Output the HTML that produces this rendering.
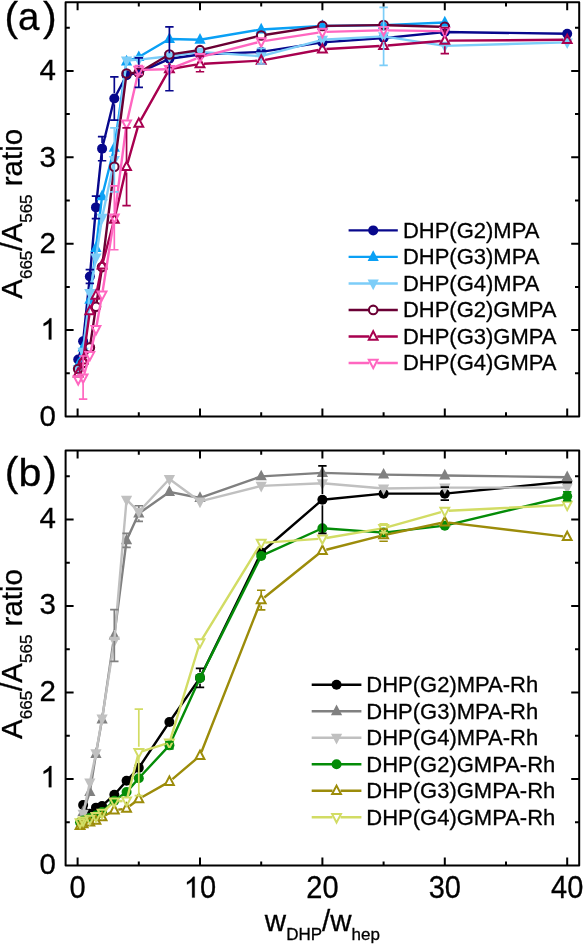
<!DOCTYPE html>
<html><head><meta charset="utf-8"><title>A665/A565 ratio</title>
<style>
html,body{margin:0;padding:0;background:#fff;}
body{width:583px;height:945px;overflow:hidden;font-family:"Liberation Sans", sans-serif;}
svg{display:block;will-change:transform;}
text{stroke:#000;stroke-width:0.3px;}
</style></head><body>
<svg width="583" height="945" viewBox="0 0 583 945" font-family='"Liberation Sans", sans-serif'>
<defs><clipPath id="ca"><rect x="65.6" y="2.2" width="513.6" height="414.3"/></clipPath><clipPath id="cb"><rect x="65.6" y="450.6" width="513.6" height="415.0"/></clipPath></defs>
<g clip-path="url(#ca)"><path d="M78.21,359.48 L83.11,341.33 L89.84,276.53 L95.96,207.41 L102.08,148.66 L114.32,98.55 L126.56,75.22 L138.8,72.63 L169.4,58.8 L200,54.48 L261.2,51.89 L322.4,42.39 L383.6,38.07 L444.8,32.02 L567.2,33.75" fill="none" stroke="#08088c" stroke-width="2.4" stroke-linejoin="round"/>
<circle cx="78.21" cy="359.48" r="5.0" fill="#08088c"/>
<circle cx="83.11" cy="341.33" r="5.0" fill="#08088c"/>
<circle cx="89.84" cy="276.53" r="5.0" fill="#08088c"/>
<circle cx="95.96" cy="207.41" r="5.0" fill="#08088c"/>
<circle cx="102.08" cy="148.66" r="5.0" fill="#08088c"/>
<circle cx="114.32" cy="98.55" r="5.0" fill="#08088c"/>
<circle cx="126.56" cy="75.22" r="5.0" fill="#08088c"/>
<circle cx="138.8" cy="72.63" r="5.0" fill="#08088c"/>
<circle cx="169.4" cy="58.8" r="5.0" fill="#08088c"/>
<circle cx="200" cy="54.48" r="5.0" fill="#08088c"/>
<circle cx="261.2" cy="51.89" r="5.0" fill="#08088c"/>
<circle cx="322.4" cy="42.39" r="5.0" fill="#08088c"/>
<circle cx="383.6" cy="38.07" r="5.0" fill="#08088c"/>
<circle cx="444.8" cy="32.02" r="5.0" fill="#08088c"/>
<circle cx="567.2" cy="33.75" r="5.0" fill="#08088c"/>
<path d="M78.21,364.66 L83.11,347.38 L89.84,299.86 L95.96,248.02 L102.08,196.18 L114.32,147.8 L126.56,61.4 L138.8,57.08 L169.4,38.93 L200,39.8 L261.2,29.43 L322.4,25.97 L383.6,25.11 L444.8,22.52" fill="none" stroke="#0aa0f5" stroke-width="2.4" stroke-linejoin="round"/>
<polygon points="78.21,357.96 83.81,368.66 72.61,368.66" fill="#0aa0f5"/>
<polygon points="83.11,340.68 88.71,351.38 77.51,351.38" fill="#0aa0f5"/>
<polygon points="89.84,293.16 95.44,303.86 84.24,303.86" fill="#0aa0f5"/>
<polygon points="95.96,241.32 101.56,252.02 90.36,252.02" fill="#0aa0f5"/>
<polygon points="102.08,189.48 107.68,200.18 96.48,200.18" fill="#0aa0f5"/>
<polygon points="114.32,141.1 119.92,151.8 108.72,151.8" fill="#0aa0f5"/>
<polygon points="126.56,54.7 132.16,65.4 120.96,65.4" fill="#0aa0f5"/>
<polygon points="138.8,50.38 144.4,61.08 133.2,61.08" fill="#0aa0f5"/>
<polygon points="169.4,32.23 175,42.93 163.8,42.93" fill="#0aa0f5"/>
<polygon points="200,33.1 205.6,43.8 194.4,43.8" fill="#0aa0f5"/>
<polygon points="261.2,22.73 266.8,33.43 255.6,33.43" fill="#0aa0f5"/>
<polygon points="322.4,19.27 328,29.97 316.8,29.97" fill="#0aa0f5"/>
<polygon points="383.6,18.41 389.2,29.11 378,29.11" fill="#0aa0f5"/>
<polygon points="444.8,15.82 450.4,26.52 439.2,26.52" fill="#0aa0f5"/>
<path d="M78.21,368.98 L83.11,351.7 L89.84,292.95 L95.96,257.52 L102.08,217.78 L114.32,159.89 L126.56,60.53 L138.8,59.67 L169.4,56.21 L200,51.89 L261.2,56.21 L322.4,39.8 L383.6,36.34 L444.8,45.84 L567.2,42.39" fill="none" stroke="#7ccdf8" stroke-width="2.4" stroke-linejoin="round"/>
<polygon points="78.21,375.68 83.81,364.98 72.61,364.98" fill="#7ccdf8"/>
<polygon points="83.11,358.4 88.71,347.7 77.51,347.7" fill="#7ccdf8"/>
<polygon points="89.84,299.65 95.44,288.95 84.24,288.95" fill="#7ccdf8"/>
<polygon points="95.96,264.22 101.56,253.52 90.36,253.52" fill="#7ccdf8"/>
<polygon points="102.08,224.48 107.68,213.78 96.48,213.78" fill="#7ccdf8"/>
<polygon points="114.32,166.59 119.92,155.89 108.72,155.89" fill="#7ccdf8"/>
<polygon points="126.56,67.23 132.16,56.53 120.96,56.53" fill="#7ccdf8"/>
<polygon points="138.8,66.37 144.4,55.67 133.2,55.67" fill="#7ccdf8"/>
<polygon points="169.4,62.91 175,52.21 163.8,52.21" fill="#7ccdf8"/>
<polygon points="200,58.59 205.6,47.89 194.4,47.89" fill="#7ccdf8"/>
<polygon points="261.2,62.91 266.8,52.21 255.6,52.21" fill="#7ccdf8"/>
<polygon points="322.4,46.5 328,35.8 316.8,35.8" fill="#7ccdf8"/>
<polygon points="383.6,43.04 389.2,32.34 378,32.34" fill="#7ccdf8"/>
<polygon points="444.8,52.54 450.4,41.84 439.2,41.84" fill="#7ccdf8"/>
<polygon points="567.2,49.09 572.8,38.39 561.6,38.39" fill="#7ccdf8"/>
<path d="M84.94,358.71L88.01,351.6M90.53,342.83L95.27,311.32M96.66,302.23L101.38,271.57M102.64,262.46L113.76,171.37M114.92,162.24L125.96,78.05M131.15,73.17L134.21,72.95M142.76,70.28L165.44,56.83M173.95,53.84L195.45,50.81M204.47,49.09L256.73,36.55M265.75,34.77L317.85,26.68M327,25.91L379,25.17M388.2,25.24L440.2,26.71" fill="none" stroke="#6a0034" stroke-width="2.4"/>
<circle cx="78.21" cy="368.98" r="4.3" fill="none" stroke="#6a0034" stroke-width="2.1"/>
<circle cx="83.11" cy="362.93" r="4.3" fill="none" stroke="#6a0034" stroke-width="2.1"/>
<circle cx="89.84" cy="347.38" r="4.3" fill="none" stroke="#6a0034" stroke-width="2.1"/>
<circle cx="95.96" cy="306.77" r="4.3" fill="none" stroke="#6a0034" stroke-width="2.1"/>
<circle cx="102.08" cy="267.03" r="4.3" fill="none" stroke="#6a0034" stroke-width="2.1"/>
<circle cx="114.32" cy="166.8" r="4.3" fill="none" stroke="#6a0034" stroke-width="2.1"/>
<circle cx="126.56" cy="73.49" r="4.3" fill="none" stroke="#6a0034" stroke-width="2.1"/>
<circle cx="138.8" cy="72.63" r="4.3" fill="none" stroke="#6a0034" stroke-width="2.1"/>
<circle cx="169.4" cy="54.48" r="4.3" fill="none" stroke="#6a0034" stroke-width="2.1"/>
<circle cx="200" cy="50.16" r="4.3" fill="none" stroke="#6a0034" stroke-width="2.1"/>
<circle cx="261.2" cy="35.48" r="4.3" fill="none" stroke="#6a0034" stroke-width="2.1"/>
<circle cx="322.4" cy="25.97" r="4.3" fill="none" stroke="#6a0034" stroke-width="2.1"/>
<circle cx="383.6" cy="25.11" r="4.3" fill="none" stroke="#6a0034" stroke-width="2.1"/>
<circle cx="444.8" cy="26.84" r="4.3" fill="none" stroke="#6a0034" stroke-width="2.1"/>
<path d="M79.63,369.56L81.69,364.08M83.65,356.38L89.3,315.06M91.3,307.37L94.5,299.26M96.75,291.62L101.29,269.22M103.11,261.44L113.29,223.37M115.22,215.61L125.66,170.7M127.65,162.96L137.71,127.45M140.76,120.12L167.44,72.66M173.34,68.5L196.06,64.66M203.99,63.76L257.21,60.76M265.13,59.81L318.47,50.02M326.39,49.07L379.61,46.07M387.59,45.51L440.81,41M448.8,40.63L563.2,39.82" fill="none" stroke="#a8004f" stroke-width="2.4"/>
<polygon points="78.21,368.1 82.61,376.5 73.81,376.5" fill="none" stroke="#a8004f" stroke-width="2"/>
<polygon points="83.11,355.14 87.51,363.54 78.71,363.54" fill="none" stroke="#a8004f" stroke-width="2"/>
<polygon points="89.84,305.89 94.24,314.29 85.44,314.29" fill="none" stroke="#a8004f" stroke-width="2"/>
<polygon points="95.96,290.34 100.36,298.74 91.56,298.74" fill="none" stroke="#a8004f" stroke-width="2"/>
<polygon points="102.08,260.1 106.48,268.5 97.68,268.5" fill="none" stroke="#a8004f" stroke-width="2"/>
<polygon points="114.32,214.31 118.72,222.71 109.92,222.71" fill="none" stroke="#a8004f" stroke-width="2"/>
<polygon points="126.56,161.6 130.96,170 122.16,170" fill="none" stroke="#a8004f" stroke-width="2"/>
<polygon points="138.8,118.4 143.2,126.8 134.4,126.8" fill="none" stroke="#a8004f" stroke-width="2"/>
<polygon points="169.4,63.97 173.8,72.37 165,72.37" fill="none" stroke="#a8004f" stroke-width="2"/>
<polygon points="200,58.79 204.4,67.19 195.6,67.19" fill="none" stroke="#a8004f" stroke-width="2"/>
<polygon points="261.2,55.33 265.6,63.73 256.8,63.73" fill="none" stroke="#a8004f" stroke-width="2"/>
<polygon points="322.4,44.1 326.8,52.5 318,52.5" fill="none" stroke="#a8004f" stroke-width="2"/>
<polygon points="383.6,40.64 388,49.04 379.2,49.04" fill="none" stroke="#a8004f" stroke-width="2"/>
<polygon points="444.8,35.46 449.2,43.86 440.4,43.86" fill="none" stroke="#a8004f" stroke-width="2"/>
<polygon points="567.2,34.6 571.6,43 562.8,43" fill="none" stroke="#a8004f" stroke-width="2"/>
<path d="M84.26,373.79L88.69,358.99M90.76,351.26L95.04,333.13M96.66,325.3L101.38,298.61M102.71,290.73L113.69,221.73M114.84,213.81L126.04,127.57M127.45,119.7L137.91,73.94M142.8,69.92L165.4,69.28M173.12,67.7L196.28,58.55M203.88,56.09L257.32,42.51M265.15,40.91L318.45,32.63M326.4,31.91L379.6,30.4M387.6,30.35L440.8,31.1" fill="none" stroke="#ff66c0" stroke-width="2.4"/>
<polygon points="78.21,384.55 82.61,376.15 73.81,376.15" fill="none" stroke="#ff66c0" stroke-width="2"/>
<polygon points="83.11,382.82 87.51,374.42 78.71,374.42" fill="none" stroke="#ff66c0" stroke-width="2"/>
<polygon points="89.84,360.36 94.24,351.96 85.44,351.96" fill="none" stroke="#ff66c0" stroke-width="2"/>
<polygon points="95.96,334.44 100.36,326.04 91.56,326.04" fill="none" stroke="#ff66c0" stroke-width="2"/>
<polygon points="102.08,299.88 106.48,291.48 97.68,291.48" fill="none" stroke="#ff66c0" stroke-width="2"/>
<polygon points="114.32,222.98 118.72,214.58 109.92,214.58" fill="none" stroke="#ff66c0" stroke-width="2"/>
<polygon points="126.56,128.8 130.96,120.4 122.16,120.4" fill="none" stroke="#ff66c0" stroke-width="2"/>
<polygon points="138.8,75.24 143.2,66.84 134.4,66.84" fill="none" stroke="#ff66c0" stroke-width="2"/>
<polygon points="169.4,74.37 173.8,65.97 165,65.97" fill="none" stroke="#ff66c0" stroke-width="2"/>
<polygon points="200,62.28 204.4,53.88 195.6,53.88" fill="none" stroke="#ff66c0" stroke-width="2"/>
<polygon points="261.2,46.72 265.6,38.32 256.8,38.32" fill="none" stroke="#ff66c0" stroke-width="2"/>
<polygon points="322.4,37.22 326.8,28.82 318,28.82" fill="none" stroke="#ff66c0" stroke-width="2"/>
<polygon points="383.6,35.49 388,27.09 379.2,27.09" fill="none" stroke="#ff66c0" stroke-width="2"/>
<polygon points="444.8,36.36 449.2,27.96 440.4,27.96" fill="none" stroke="#ff66c0" stroke-width="2"/>
<path d="M95.96,196.18V201.81M95.96,213.01V218.64M91.76,196.18H100.16M91.76,218.64H100.16" stroke="#08088c" stroke-width="1.7" fill="none"/>
<path d="M102.08,136.56V143.06M102.08,154.26V160.76M97.88,136.56H106.28M97.88,160.76H106.28" stroke="#08088c" stroke-width="1.7" fill="none"/>
<path d="M114.32,76.95V92.95M114.32,104.15V120.15M110.12,76.95H118.52M110.12,120.15H118.52" stroke="#08088c" stroke-width="1.7" fill="none"/>
<path d="M138.8,57.94V67.03M138.8,78.23V87.32M134.6,57.94H143M134.6,87.32H143" stroke="#08088c" stroke-width="1.7" fill="none"/>
<path d="M169.4,26.84V53.2M169.4,64.4V90.77M165.2,26.84H173.6M165.2,90.77H173.6" stroke="#08088c" stroke-width="1.7" fill="none"/>
<path d="M89.84,269.62V270.93M89.84,282.13V283.44M85.64,269.62H94.04M85.64,283.44H94.04" stroke="#08088c" stroke-width="1.7" fill="none"/>
<path d="M383.6,7.4V30.74M383.6,41.94V65.28M379.4,7.4H387.8M379.4,65.28H387.8" stroke="#7ccdf8" stroke-width="1.7" fill="none"/>
<path d="M261.2,48.44V50.61M261.2,61.81V63.99M257,48.44H265.4M257,63.99H265.4" stroke="#7ccdf8" stroke-width="1.7" fill="none"/>
<path d="M114.32,127.92V154.29M114.32,165.49V191.86M110.12,127.92H118.52M110.12,191.86H118.52" stroke="#7ccdf8" stroke-width="1.7" fill="none"/>
<path d="M126.56,127.92V161.2M126.56,172.4V205.68M122.36,127.92H130.76M122.36,205.68H130.76" stroke="#a8004f" stroke-width="1.7" fill="none"/>
<path d="M200,56.21V58.39M200,69.59V71.76M195.8,56.21H204.2M195.8,71.76H204.2" stroke="#a8004f" stroke-width="1.7" fill="none"/>
<path d="M444.8,27.7V35.06M444.8,46.26V53.62M440.6,27.7H449M440.6,53.62H449" stroke="#a8004f" stroke-width="1.7" fill="none"/>
<path d="M83.11,356.02V372.02M83.11,383.22V399.22M78.91,356.02H87.31M78.91,399.22H87.31" stroke="#ff66c0" stroke-width="1.7" fill="none"/>
<path d="M114.32,185.81V212.18M114.32,223.38V249.75M110.12,185.81H118.52M110.12,249.75H118.52" stroke="#ff66c0" stroke-width="1.7" fill="none"/>
<path d="M134.6,65.72H143M134.6,74.36H143" stroke="#ff66c0" stroke-width="1.7" fill="none"/></g>
<g clip-path="url(#cb)"><path d="M83.11,805.05 L89.84,813.7 L95.96,807.64 L102.08,805.92 L114.32,794.67 L126.56,780.83 L138.8,767.86 L169.4,722.01 L200,677.89 L261.2,552.47 L322.4,499.7 L383.6,493.65 L444.8,493.65 L567.2,481.54" fill="none" stroke="#000000" stroke-width="2.4" stroke-linejoin="round"/>
<circle cx="83.11" cy="805.05" r="5.0" fill="#000000"/>
<circle cx="89.84" cy="813.7" r="5.0" fill="#000000"/>
<circle cx="95.96" cy="807.64" r="5.0" fill="#000000"/>
<circle cx="102.08" cy="805.92" r="5.0" fill="#000000"/>
<circle cx="114.32" cy="794.67" r="5.0" fill="#000000"/>
<circle cx="126.56" cy="780.83" r="5.0" fill="#000000"/>
<circle cx="138.8" cy="767.86" r="5.0" fill="#000000"/>
<circle cx="169.4" cy="722.01" r="5.0" fill="#000000"/>
<circle cx="200" cy="677.89" r="5.0" fill="#000000"/>
<circle cx="261.2" cy="552.47" r="5.0" fill="#000000"/>
<circle cx="322.4" cy="499.7" r="5.0" fill="#000000"/>
<circle cx="383.6" cy="493.65" r="5.0" fill="#000000"/>
<circle cx="444.8" cy="493.65" r="5.0" fill="#000000"/>
<circle cx="567.2" cy="481.54" r="5.0" fill="#000000"/>
<path d="M83.11,811.97 L89.84,792.08 L95.96,754.01 L102.08,719.41 L114.32,635.51 L126.56,540.36 L138.8,513.55 L169.4,491.92 L200,497.98 L261.2,476.35 L322.4,472.89 L383.6,474.62 L444.8,475.49 L567.2,477.22" fill="none" stroke="#808080" stroke-width="2.4" stroke-linejoin="round"/>
<polygon points="83.11,805.27 88.71,815.97 77.51,815.97" fill="#808080"/>
<polygon points="89.84,785.38 95.44,796.08 84.24,796.08" fill="#808080"/>
<polygon points="95.96,747.31 101.56,758.01 90.36,758.01" fill="#808080"/>
<polygon points="102.08,712.71 107.68,723.41 96.48,723.41" fill="#808080"/>
<polygon points="114.32,628.81 119.92,639.51 108.72,639.51" fill="#808080"/>
<polygon points="126.56,533.66 132.16,544.36 120.96,544.36" fill="#808080"/>
<polygon points="138.8,506.85 144.4,517.55 133.2,517.55" fill="#808080"/>
<polygon points="169.4,485.22 175,495.92 163.8,495.92" fill="#808080"/>
<polygon points="200,491.28 205.6,501.98 194.4,501.98" fill="#808080"/>
<polygon points="261.2,469.65 266.8,480.35 255.6,480.35" fill="#808080"/>
<polygon points="322.4,466.19 328,476.89 316.8,476.89" fill="#808080"/>
<polygon points="383.6,467.92 389.2,478.62 378,478.62" fill="#808080"/>
<polygon points="444.8,468.79 450.4,479.49 439.2,479.49" fill="#808080"/>
<polygon points="567.2,470.52 572.8,481.22 561.6,481.22" fill="#808080"/>
<path d="M83.11,813.7 L89.84,782.56 L95.96,753.15 L102.08,718.55 L114.32,640.7 L126.56,499.7 L138.8,511.82 L169.4,478.95 L200,501.44 L261.2,485.87 L322.4,483.27 L383.6,488.46 L444.8,487.6 L567.2,487.6" fill="none" stroke="#c0c0c0" stroke-width="2.4" stroke-linejoin="round"/>
<polygon points="83.11,820.4 88.71,809.7 77.51,809.7" fill="#c0c0c0"/>
<polygon points="89.84,789.26 95.44,778.56 84.24,778.56" fill="#c0c0c0"/>
<polygon points="95.96,759.85 101.56,749.15 90.36,749.15" fill="#c0c0c0"/>
<polygon points="102.08,725.25 107.68,714.55 96.48,714.55" fill="#c0c0c0"/>
<polygon points="114.32,647.4 119.92,636.7 108.72,636.7" fill="#c0c0c0"/>
<polygon points="126.56,506.4 132.16,495.7 120.96,495.7" fill="#c0c0c0"/>
<polygon points="138.8,518.52 144.4,507.82 133.2,507.82" fill="#c0c0c0"/>
<polygon points="169.4,485.65 175,474.95 163.8,474.95" fill="#c0c0c0"/>
<polygon points="200,508.13 205.6,497.44 194.4,497.44" fill="#c0c0c0"/>
<polygon points="261.2,492.57 266.8,481.87 255.6,481.87" fill="#c0c0c0"/>
<polygon points="322.4,489.97 328,479.27 316.8,479.27" fill="#c0c0c0"/>
<polygon points="383.6,495.16 389.2,484.46 378,484.46" fill="#c0c0c0"/>
<polygon points="444.8,494.3 450.4,483.6 439.2,483.6" fill="#c0c0c0"/>
<polygon points="567.2,494.3 572.8,483.6 561.6,483.6" fill="#c0c0c0"/>
<path d="M80.05,822.35 L83.11,820.62 L89.84,818.02 L95.96,815.43 L102.08,811.97 L114.32,800.73 L126.56,792.08 L138.8,778.24 L169.4,745.37 L200,677.89 L261.2,555.93 L322.4,528.25 L383.6,532.58 L444.8,525.65 L567.2,496.25" fill="none" stroke="#048c08" stroke-width="2.4" stroke-linejoin="round"/>
<circle cx="80.05" cy="822.35" r="5.0" fill="#048c08"/>
<circle cx="83.11" cy="820.62" r="5.0" fill="#048c08"/>
<circle cx="89.84" cy="818.02" r="5.0" fill="#048c08"/>
<circle cx="95.96" cy="815.43" r="5.0" fill="#048c08"/>
<circle cx="102.08" cy="811.97" r="5.0" fill="#048c08"/>
<circle cx="114.32" cy="800.73" r="5.0" fill="#048c08"/>
<circle cx="126.56" cy="792.08" r="5.0" fill="#048c08"/>
<circle cx="138.8" cy="778.24" r="5.0" fill="#048c08"/>
<circle cx="169.4" cy="745.37" r="5.0" fill="#048c08"/>
<circle cx="200" cy="677.89" r="5.0" fill="#048c08"/>
<circle cx="261.2" cy="555.93" r="5.0" fill="#048c08"/>
<circle cx="322.4" cy="528.25" r="5.0" fill="#048c08"/>
<circle cx="383.6" cy="532.58" r="5.0" fill="#048c08"/>
<circle cx="444.8" cy="525.65" r="5.0" fill="#048c08"/>
<circle cx="567.2" cy="496.25" r="5.0" fill="#048c08"/>
<path d="M105.56,815.19L110.84,812.21M118.28,809.68L122.6,809.07M129.72,806.06L135.64,801.45M142.28,797.03L165.92,783.66M172.45,779.11L196.95,758.33M201.46,752.02L259.74,603.77M264.31,597.54L319.29,553.25M326.28,549.75L379.72,536.16M387.51,534.34L440.89,523.02M448.77,522.67L563.23,536.42" fill="none" stroke="#9c8c0a" stroke-width="2.4"/>
<polygon points="80.05,820.61 84.45,829.01 75.65,829.01" fill="none" stroke="#9c8c0a" stroke-width="2"/>
<polygon points="83.11,818.88 87.51,827.28 78.71,827.28" fill="none" stroke="#9c8c0a" stroke-width="2"/>
<polygon points="89.84,817.15 94.24,825.55 85.44,825.55" fill="none" stroke="#9c8c0a" stroke-width="2"/>
<polygon points="95.96,815.42 100.36,823.82 91.56,823.82" fill="none" stroke="#9c8c0a" stroke-width="2"/>
<polygon points="102.08,811.96 106.48,820.36 97.68,820.36" fill="none" stroke="#9c8c0a" stroke-width="2"/>
<polygon points="114.32,805.04 118.72,813.44 109.92,813.44" fill="none" stroke="#9c8c0a" stroke-width="2"/>
<polygon points="126.56,803.31 130.96,811.71 122.16,811.71" fill="none" stroke="#9c8c0a" stroke-width="2"/>
<polygon points="138.8,793.79 143.2,802.2 134.4,802.2" fill="none" stroke="#9c8c0a" stroke-width="2"/>
<polygon points="169.4,776.5 173.8,784.9 165,784.9" fill="none" stroke="#9c8c0a" stroke-width="2"/>
<polygon points="200,750.54 204.4,758.95 195.6,758.95" fill="none" stroke="#9c8c0a" stroke-width="2"/>
<polygon points="261.2,594.85 265.6,603.25 256.8,603.25" fill="none" stroke="#9c8c0a" stroke-width="2"/>
<polygon points="322.4,545.54 326.8,553.94 318,553.94" fill="none" stroke="#9c8c0a" stroke-width="2"/>
<polygon points="383.6,529.97 388,538.37 379.2,538.37" fill="none" stroke="#9c8c0a" stroke-width="2"/>
<polygon points="444.8,516.99 449.2,525.39 440.4,525.39" fill="none" stroke="#9c8c0a" stroke-width="2"/>
<polygon points="567.2,531.7 571.6,540.1 562.8,540.1" fill="none" stroke="#9c8c0a" stroke-width="2"/>
<path d="M105.03,810.13L111.37,804.3M118.31,801.31L122.57,801.01M127.54,796.85L137.82,756.16M142.62,751.1L165.58,743.96M170.57,738.94L198.83,646.26M202.1,639.02L259.1,546.36M265.19,542.67L318.41,538.91M326.34,537.96L379.66,528.92M387.45,527.16L440.95,512.04M448.8,510.75L563.2,505.09" fill="none" stroke="#d2dc64" stroke-width="2.4"/>
<polygon points="80.05,827.55 84.45,819.15 75.65,819.15" fill="none" stroke="#d2dc64" stroke-width="2"/>
<polygon points="83.11,825.82 87.51,817.42 78.71,817.42" fill="none" stroke="#d2dc64" stroke-width="2"/>
<polygon points="89.84,824.09 94.24,815.69 85.44,815.69" fill="none" stroke="#d2dc64" stroke-width="2"/>
<polygon points="95.96,821.5 100.36,813.1 91.56,813.1" fill="none" stroke="#d2dc64" stroke-width="2"/>
<polygon points="102.08,818.04 106.48,809.63 97.68,809.63" fill="none" stroke="#d2dc64" stroke-width="2"/>
<polygon points="114.32,806.79 118.72,798.39 109.92,798.39" fill="none" stroke="#d2dc64" stroke-width="2"/>
<polygon points="126.56,805.93 130.96,797.52 122.16,797.52" fill="none" stroke="#d2dc64" stroke-width="2"/>
<polygon points="138.8,757.49 143.2,749.09 134.4,749.09" fill="none" stroke="#d2dc64" stroke-width="2"/>
<polygon points="169.4,747.97 173.8,739.57 165,739.57" fill="none" stroke="#d2dc64" stroke-width="2"/>
<polygon points="200,647.63 204.4,639.23 195.6,639.23" fill="none" stroke="#d2dc64" stroke-width="2"/>
<polygon points="261.2,548.16 265.6,539.75 256.8,539.75" fill="none" stroke="#d2dc64" stroke-width="2"/>
<polygon points="322.4,543.83 326.8,535.43 318,535.43" fill="none" stroke="#d2dc64" stroke-width="2"/>
<polygon points="383.6,533.45 388,525.05 379.2,525.05" fill="none" stroke="#d2dc64" stroke-width="2"/>
<polygon points="444.8,516.15 449.2,507.75 440.4,507.75" fill="none" stroke="#d2dc64" stroke-width="2"/>
<polygon points="567.2,510.1 571.6,501.7 562.8,501.7" fill="none" stroke="#d2dc64" stroke-width="2"/>
<path d="M200,668.38V672.29M200,683.5V687.41M195.8,668.38H204.2M195.8,687.41H204.2" stroke="#000000" stroke-width="1.7" fill="none"/>
<path d="M322.4,465.97V494.1M322.4,505.31V533.44M318.2,465.97H326.6M318.2,533.44H326.6" stroke="#000000" stroke-width="1.7" fill="none"/>
<path d="M444.8,487.16V488.05M444.8,499.25V500.14M440.6,487.16H449M440.6,500.14H449" stroke="#000000" stroke-width="1.7" fill="none"/>
<path d="M114.32,609.56V629.91M114.32,641.11V661.46M110.12,609.56H118.52M110.12,661.46H118.52" stroke="#808080" stroke-width="1.7" fill="none"/>
<path d="M126.56,533.44V534.76M126.56,545.96V547.28M122.36,533.44H130.76M122.36,547.28H130.76" stroke="#808080" stroke-width="1.7" fill="none"/>
<path d="M138.8,505.76V507.95M138.8,519.15V521.33M134.6,505.76H143M134.6,521.33H143" stroke="#808080" stroke-width="1.7" fill="none"/>
<path d="M165.2,741.9H173.6M165.2,748.83H173.6" stroke="#048c08" stroke-width="1.7" fill="none"/>
<path d="M563,491.92H571.4M563,500.57H571.4" stroke="#048c08" stroke-width="1.7" fill="none"/>
<path d="M261.2,590.27V594.45M261.2,605.65V609.82M257,590.27H265.4M257,609.82H265.4" stroke="#9c8c0a" stroke-width="1.7" fill="none"/>
<path d="M383.6,529.12V529.57M383.6,540.77V541.23M379.4,529.12H387.8M379.4,541.23H387.8" stroke="#9c8c0a" stroke-width="1.7" fill="none"/>
<path d="M138.8,709.04V746.69M138.8,757.89V795.54M134.6,709.04H143M134.6,795.54H143" stroke="#d2dc64" stroke-width="1.7" fill="none"/>
<path d="M379.4,523.93H387.8M379.4,532.58H387.8" stroke="#d2dc64" stroke-width="1.7" fill="none"/></g>
<rect x="65.6" y="2.2" width="513.6" height="414.3" fill="none" stroke="#000" stroke-width="2" stroke-linejoin="round"/>
<path d="M77.6,416.5v-8M77.6,2.2v8M138.8,416.5v-4.2M138.8,2.2v4.2M200,416.5v-8M200,2.2v8M261.2,416.5v-4.2M261.2,2.2v4.2M322.4,416.5v-8M322.4,2.2v8M383.6,416.5v-4.2M383.6,2.2v4.2M444.8,416.5v-8M444.8,2.2v8M506,416.5v-4.2M506,2.2v4.2M567.2,416.5v-8M567.2,2.2v8M65.6,373.3h4.2M579.2,373.3h-4.2M65.6,330.1h8M579.2,330.1h-8M65.6,286.9h4.2M579.2,286.9h-4.2M65.6,243.7h8M579.2,243.7h-8M65.6,200.5h4.2M579.2,200.5h-4.2M65.6,157.3h8M579.2,157.3h-8M65.6,114.1h4.2M579.2,114.1h-4.2M65.6,70.9h8M579.2,70.9h-8M65.6,27.7h4.2M579.2,27.7h-4.2" stroke="#000" stroke-width="2" fill="none"/>
<rect x="65.6" y="450.6" width="513.6" height="415" fill="none" stroke="#000" stroke-width="2" stroke-linejoin="round"/>
<path d="M77.6,865.6v-8M77.6,450.6v8M138.8,865.6v-4.2M138.8,450.6v4.2M200,865.6v-8M200,450.6v8M261.2,865.6v-4.2M261.2,450.6v4.2M322.4,865.6v-8M322.4,450.6v8M383.6,865.6v-4.2M383.6,450.6v4.2M444.8,865.6v-8M444.8,450.6v8M506,865.6v-4.2M506,450.6v4.2M567.2,865.6v-8M567.2,450.6v8M65.6,822.35h4.2M579.2,822.35h-4.2M65.6,779.1h8M579.2,779.1h-8M65.6,735.85h4.2M579.2,735.85h-4.2M65.6,692.6h8M579.2,692.6h-8M65.6,649.35h4.2M579.2,649.35h-4.2M65.6,606.1h8M579.2,606.1h-8M65.6,562.85h4.2M579.2,562.85h-4.2M65.6,519.6h8M579.2,519.6h-8M65.6,476.35h4.2M579.2,476.35h-4.2" stroke="#000" stroke-width="2" fill="none"/>
<text x="55.8" y="425.85" text-anchor="end" font-size="29.5">0</text>
<path d="M51.39,339.45L48.8,339.45L48.8,322.93C48.18,323.52 47.36,324.12 46.35,324.71C45.34,325.3 44.43,325.75 43.61,326.05L43.61,323.55C45.06,322.87 46.33,322.05 47.41,321.08C48.49,320.12 49.26,319.18 49.7,318.28L51.39,318.28Z" fill="#000" stroke="#000" stroke-width="0.3"/>
<text x="55.8" y="253.05" text-anchor="end" font-size="29.5">2</text>
<text x="55.8" y="166.65" text-anchor="end" font-size="29.5">3</text>
<text x="55.8" y="80.25" text-anchor="end" font-size="29.5">4</text>
<text x="55.8" y="873.7" text-anchor="end" font-size="29.5">0</text>
<path d="M51.39,787.2L48.8,787.2L48.8,770.68C48.18,771.27 47.36,771.87 46.35,772.46C45.34,773.05 44.43,773.5 43.61,773.8L43.61,771.3C45.06,770.62 46.33,769.8 47.41,768.83C48.49,767.87 49.26,766.93 49.7,766.03L51.39,766.03Z" fill="#000" stroke="#000" stroke-width="0.3"/>
<text x="55.8" y="700.7" text-anchor="end" font-size="29.5">2</text>
<text x="55.8" y="614.2" text-anchor="end" font-size="29.5">3</text>
<text x="55.8" y="527.7" text-anchor="end" font-size="29.5">4</text>
<text transform="translate(77.6,897.9) scale(1,1.06)" text-anchor="middle" font-size="29">0</text>
<path d="M194.68,897.6L192.13,897.6L192.13,881.36C191.52,881.94 190.72,882.53 189.72,883.11C188.73,883.69 187.84,884.13 187.03,884.43L187.03,881.97C188.46,881.3 189.71,880.49 190.77,879.55C191.83,878.6 192.58,877.68 193.02,876.78L194.68,876.78Z" fill="#000" stroke="#000" stroke-width="0.3"/>
<text transform="translate(200,897.9) scale(1,1.06)" font-size="29">0</text>
<text transform="translate(322.4,897.9) scale(1,1.06)" text-anchor="middle" font-size="29">20</text>
<text transform="translate(444.8,897.9) scale(1,1.06)" text-anchor="middle" font-size="29">30</text>
<text transform="translate(567.2,897.9) scale(1,1.06)" text-anchor="middle" font-size="29">40</text>
<text x="4.5" y="30.8" font-size="41">(</text><text transform="translate(18.1,29.8) scale(1.0,1)" font-size="38.5">a</text><text x="42.9" y="30.8" font-size="41">)</text>
<text x="4.8" y="485.8" font-size="41">(</text><text transform="translate(18.4,485.6) scale(1.07,1)" font-size="38.5">b</text><text x="43.2" y="485.8" font-size="41">)</text>
<text transform="translate(22,213.8) rotate(-90)" text-anchor="middle" font-size="29.5">A<tspan font-size="17" dy="9.5">665</tspan><tspan dy="-9.5">/A</tspan><tspan font-size="17" dy="9.5">565</tspan><tspan dy="-9.5"> ratio</tspan></text>
<text transform="translate(22,654) rotate(-90)" text-anchor="middle" font-size="29.5">A<tspan font-size="17" dy="9.5">665</tspan><tspan dy="-9.5">/A</tspan><tspan font-size="17" dy="9.5">565</tspan><tspan dy="-9.5"> ratio</tspan></text>
<text x="322.4" y="930.5" text-anchor="middle" font-size="29.5">w<tspan font-size="17" dy="9.5">DHP</tspan><tspan dy="-9.5">/w</tspan><tspan font-size="17" dy="9.5">hep</tspan></text>
<path d="M348.6,230.4H397.8" stroke="#08088c" stroke-width="2.4"/>
<circle cx="373.2" cy="230.4" r="5.0" fill="#08088c"/>
<text transform="translate(402.9,237.8) scale(1,1.04)" font-size="22">DHP(G2)MPA</text>
<path d="M348.6,256.92H397.8" stroke="#0aa0f5" stroke-width="2.4"/>
<polygon points="373.2,250.22 378.8,260.92 367.6,260.92" fill="#0aa0f5"/>
<text transform="translate(402.9,264.32) scale(1,1.04)" font-size="22">DHP(G3)MPA</text>
<path d="M348.6,283.44H397.8" stroke="#7ccdf8" stroke-width="2.4"/>
<polygon points="373.2,290.14 378.8,279.44 367.6,279.44" fill="#7ccdf8"/>
<text transform="translate(402.9,290.84) scale(1,1.04)" font-size="22">DHP(G4)MPA</text>
<path d="M348.6,309.96H368.6M377.8,309.96H397.8" stroke="#6a0034" stroke-width="2.4"/>
<circle cx="373.2" cy="309.96" r="4.3" fill="none" stroke="#6a0034" stroke-width="2.1"/>
<text transform="translate(402.9,317.36) scale(1,1.04)" font-size="22">DHP(G2)GMPA</text>
<path d="M348.6,336.48H369.2M377.2,336.48H397.8" stroke="#a8004f" stroke-width="2.4"/>
<polygon points="373.2,331.28 377.6,339.68 368.8,339.68" fill="none" stroke="#a8004f" stroke-width="2"/>
<text transform="translate(402.9,343.88) scale(1,1.04)" font-size="22">DHP(G3)GMPA</text>
<path d="M348.6,363H369.2M377.2,363H397.8" stroke="#ff66c0" stroke-width="2.4"/>
<polygon points="373.2,368.2 377.6,359.8 368.8,359.8" fill="none" stroke="#ff66c0" stroke-width="2"/>
<text transform="translate(402.9,370.4) scale(1,1.04)" font-size="22">DHP(G4)GMPA</text>
<path d="M311.7,684.8H361.4" stroke="#000000" stroke-width="2.4"/>
<circle cx="336.55" cy="684.8" r="5.0" fill="#000000"/>
<text transform="translate(366.3,692.2) scale(1,1.04)" font-size="22">DHP(G2)MPA-Rh</text>
<path d="M311.7,711.3H361.4" stroke="#808080" stroke-width="2.4"/>
<polygon points="336.55,704.6 342.15,715.3 330.95,715.3" fill="#808080"/>
<text transform="translate(366.3,718.7) scale(1,1.04)" font-size="22">DHP(G3)MPA-Rh</text>
<path d="M311.7,737.8H361.4" stroke="#c0c0c0" stroke-width="2.4"/>
<polygon points="336.55,744.5 342.15,733.8 330.95,733.8" fill="#c0c0c0"/>
<text transform="translate(366.3,745.2) scale(1,1.04)" font-size="22">DHP(G4)MPA-Rh</text>
<path d="M311.7,764.3H361.4" stroke="#048c08" stroke-width="2.4"/>
<circle cx="336.55" cy="764.3" r="5.0" fill="#048c08"/>
<text transform="translate(366.3,771.7) scale(1,1.04)" font-size="22">DHP(G2)GMPA-Rh</text>
<path d="M311.7,790.8H332.55M340.55,790.8H361.4" stroke="#9c8c0a" stroke-width="2.4"/>
<polygon points="336.55,785.6 340.95,794 332.15,794" fill="none" stroke="#9c8c0a" stroke-width="2"/>
<text transform="translate(366.3,798.2) scale(1,1.04)" font-size="22">DHP(G3)GMPA-Rh</text>
<path d="M311.7,817.3H332.55M340.55,817.3H361.4" stroke="#d2dc64" stroke-width="2.4"/>
<polygon points="336.55,822.5 340.95,814.1 332.15,814.1" fill="none" stroke="#d2dc64" stroke-width="2"/>
<text transform="translate(366.3,824.7) scale(1,1.04)" font-size="22">DHP(G4)GMPA-Rh</text>
</svg>
</body></html>
